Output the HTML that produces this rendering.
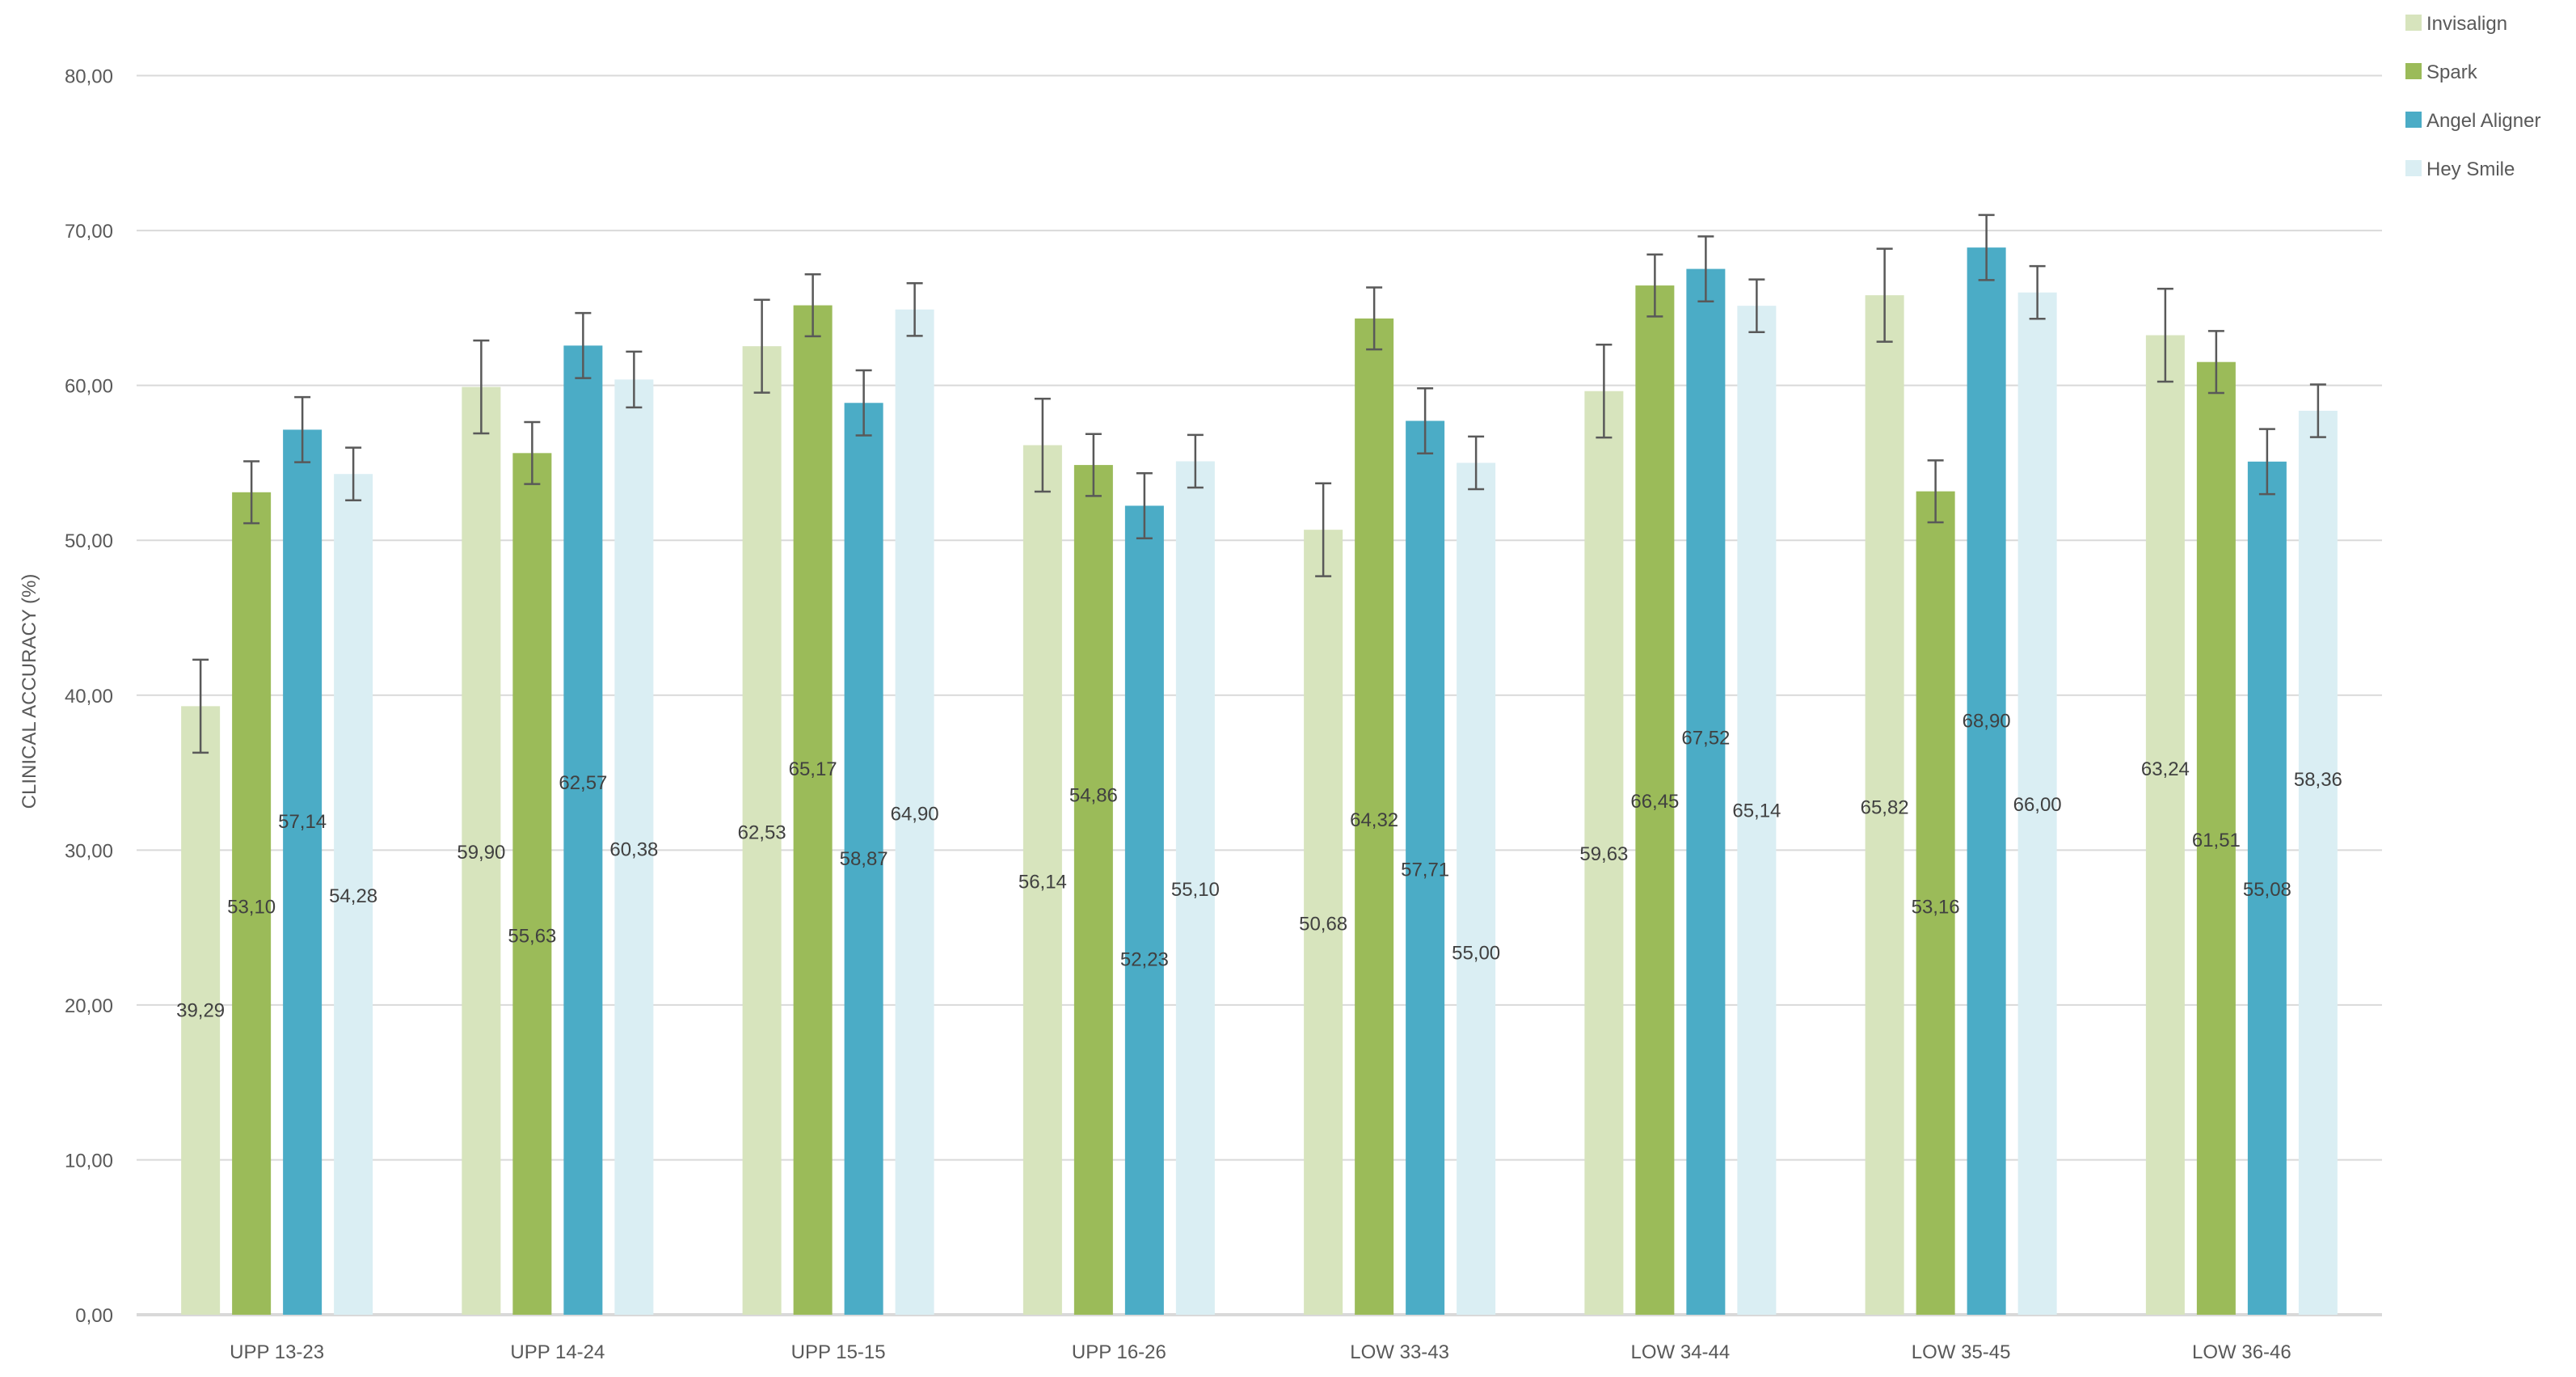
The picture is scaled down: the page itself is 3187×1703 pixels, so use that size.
<!DOCTYPE html>
<html><head><meta charset="utf-8"><style>
html,body{margin:0;padding:0;background:#fff;}
svg{display:block;font-family:"Liberation Sans",sans-serif;}
</style></head><body>
<svg id="chart" width="3187" height="1703" viewBox="0 0 3187 1703" xmlns="http://www.w3.org/2000/svg">
<g id="grid"></g>
<g id="yticks"></g>
<g id="bars"></g>
<g id="xlabels"></g>
<text transform="translate(44,855) rotate(-90)" text-anchor="middle" font-size="24" fill="#595959">CLINICAL ACCURACY (%)</text>
<g id="legend"></g>
</svg>
<script>
const categories = ["UPP 13-23","UPP 14-24","UPP 15-15","UPP 16-26","LOW 33-43","LOW 34-44","LOW 35-45","LOW 36-46"];
const seriesNames = ["Invisalign","Spark","Angel Aligner","Hey Smile"];
const invisalign = [39.29,59.90,62.53,56.14,50.68,59.63,65.82,63.24];
const spark = [53.10,55.63,65.17,54.86,64.32,66.45,53.16,61.51];
const angel = [57.14,62.57,58.87,52.23,57.71,67.52,68.90,55.08];
const heySmile = [54.28,60.38,64.90,55.10,55.00,65.14,66.00,58.36];
const errInvisalign = [3.0,3.0,3.0,3.0,3.0,3.0,3.0,3.0];
const errSpark = [2.0,2.0,2.0,2.0,2.0,2.0,2.0,2.0];
const errAngel = [2.1,2.1,2.1,2.1,2.1,2.1,2.1,2.1];
const errHey = [1.7,1.8,1.7,1.7,1.7,1.7,1.7,1.7];
// data label anchor heights (in axis value units) as placed in the source chart
const lblInvisalign = [19.7,29.9,31.2,28.0,25.3,29.8,32.8,35.3];
const lblSpark = [26.4,24.5,35.3,33.6,32.0,33.2,26.4,30.7];
const lblAngel = [31.9,34.4,29.5,23.0,28.8,37.3,38.4,27.5];
const lblHey = [27.1,30.1,32.4,27.5,23.4,32.6,33.0,34.6];
const yTicks = [0,10,20,30,40,50,60,70,80];

const NS="http://www.w3.org/2000/svg";
const colors=["#d7e4bd","#9bbb59","#4bacc6","#daeef3"];
const series=[invisalign,spark,angel,heySmile];
const errs=[errInvisalign,errSpark,errAngel,errHey];
const lbls=[lblInvisalign,lblSpark,lblAngel,lblHey];
const X0=169,X1=2947,Y0=1626,YTOP=93.5,YMAX=80;
const y=v=>Y0-(v/YMAX)*(Y0-YTOP);
const gw=(X1-X0)/categories.length;
const bw=48,step=63;
const barX=(ci,si)=>X0+ci*gw+gw/2-(3*step+bw)/2+si*step;
const fmt=v=>v.toFixed(2).replace('.',',');
function mk(tag,attrs,parent){const e=document.createElementNS(NS,tag);for(const k in attrs)e.setAttribute(k,attrs[k]);parent.appendChild(e);return e;}
const grid=document.getElementById('grid'),yt=document.getElementById('yticks');
yTicks.forEach(t=>{
  const l=mk('line',{x1:X0,x2:X1,y1:y(t),y2:y(t),stroke:'#d9d9d9','stroke-width':t===0?4:2},grid);
  
  
  const tx=mk('text',{x:140,y:y(t)+9,'text-anchor':'end','font-size':24,fill:'#595959'},yt);
  tx.textContent=fmt(t);
  
  
});
const bars=document.getElementById('bars'),xl=document.getElementById('xlabels');
categories.forEach((c,ci)=>{
  const t=mk('text',{x:X0+ci*gw+gw/2,y:1680,'text-anchor':'middle','font-size':24,fill:'#595959'},xl);
  t.textContent=c;
  
  
  series.forEach((s,si)=>{
    const v=s[ci],x=barX(ci,si);
    const r=mk('rect',{x:x,y:y(v),width:bw,height:Y0-y(v),fill:colors[si]},bars);
    
    
    const e=errs[si][ci],cx=x+bw/2;
    const g=mk('g',{stroke:'#595959','stroke-width':2.5},bars);
    
    
    mk('line',{x1:cx,x2:cx,y1:y(v+e),y2:y(v-e)},g);
    mk('line',{x1:cx-10,x2:cx+10,y1:y(v+e),y2:y(v+e)},g);
    mk('line',{x1:cx-10,x2:cx+10,y1:y(v-e),y2:y(v-e)},g);
    const lb=mk('text',{x:cx,y:y(lbls[si][ci])+9,'text-anchor':'middle','font-size':24,fill:'#404040'},bars);
    lb.textContent=fmt(v);
    
    
  });
});
const lg=document.getElementById('legend');
seriesNames.forEach((n,i)=>{
  const yy=28+i*60;
  const sq=mk('rect',{x:2976,y:yy-10,width:20,height:20,fill:colors[i]},lg);
  
  
  const t=mk('text',{x:3002,y:yy+9,'font-size':24,fill:'#595959'},lg);
  t.textContent=n;
  
  
});
</script>
</body></html>
